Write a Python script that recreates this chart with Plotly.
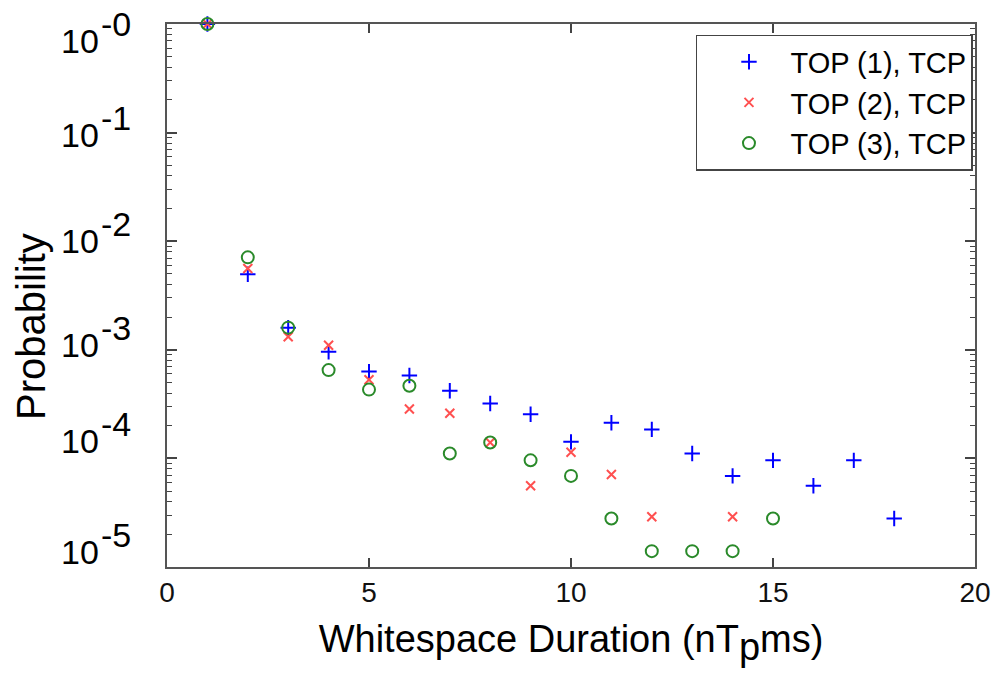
import math
import plotly.graph_objects as go

# ---- data ----
x1 = [1, 2, 3, 4, 5, 6, 7, 8, 9, 10, 11, 12, 13, 14, 15, 16, 17, 18]
y1 = [1.0, 4.96e-3, 1.6e-3, 9.6e-4, 6.3e-4, 5.8e-4, 4.2e-4, 3.2e-4, 2.55e-4,
      1.42e-4, 2.13e-4, 1.85e-4, 1.11e-4, 6.9e-5, 9.6e-5, 5.6e-5, 9.6e-5, 2.8e-5]

x2 = [1, 2, 3, 4, 5, 6, 7, 8, 9, 10, 11, 12, 14]
y2 = [1.0, 5.6e-3, 1.32e-3, 1.1e-3, 5.3e-4, 2.85e-4, 2.6e-4, 1.40e-4, 5.6e-5,
      1.14e-4, 7.1e-5, 2.9e-5, 2.9e-5]

x3 = [1, 2, 3, 4, 5, 6, 7, 8, 9, 10, 11, 12, 13, 14, 15]
y3 = [1.0, 7.1e-3, 1.6e-3, 6.5e-4, 4.3e-4, 4.67e-4, 1.11e-4, 1.40e-4, 9.6e-5,
      6.9e-5, 2.8e-5, 1.4e-5, 1.4e-5, 1.4e-5, 2.8e-5]

names = ["TOP (1), TCP", "TOP (2), TCP", "TOP (3), TCP"]
x_ticks = [0, 5, 10, 15, 20]
y_tickvals = [1e0, 1e-1, 1e-2, 1e-3, 1e-4, 1e-5]
y_tick_base = "10"
y_tick_exps = ["-0", "-1", "-2", "-3", "-4", "-5"]

# label placement tweaks (pixels, positive = up) as seen in the original figure
y_label_shift = [-17, -2, 0, 5, 17, 15]

FONT = "Liberation Sans, Arial, sans-serif"
TICK_FS = 34

fig = go.Figure()
fig.add_trace(go.Scatter(
    x=x1, y=y1, mode="markers", name=names[0], cliponaxis=False,
    marker=dict(symbol="cross-thin", size=11, color="#0000ff",
                line=dict(color="#0000ff", width=2))))
fig.add_trace(go.Scatter(
    x=x2, y=y2, mode="markers", name=names[1], cliponaxis=False,
    marker=dict(symbol="x-thin", size=9, color="#ff5050",
                line=dict(color="#ff5050", width=2))))
fig.add_trace(go.Scatter(
    x=x3, y=y3, mode="markers", name=names[2], cliponaxis=False,
    marker=dict(symbol="circle-open", size=12, color="#2a8a2a",
                line=dict(color="#2a8a2a", width=2))))

axis_common = dict(
    showline=True, linecolor="#555555", linewidth=1.5, mirror="ticks",
    ticks="inside", tickcolor="#444444", tickwidth=1.5,
    showgrid=False, zeroline=False,
)

fig.update_xaxes(
    range=[0, 20], tickvals=x_ticks, ticklen=9,
    tickfont=dict(family=FONT, size=28, color="#111111"),
    title=dict(text="Whitespace Duration (nT<sub><span style='font-size:38px'>p</span></sub>ms)",
               font=dict(family=FONT, size=38, color="black"), standoff=18),
    **axis_common)

fig.update_yaxes(
    type="log", range=[-5, 0], tickvals=y_tickvals, ticklen=10,
    showticklabels=False,
    minor=dict(ticks="inside", ticklen=5, tickcolor="#444444", tickwidth=1.2, dtick="D1"),
    **axis_common)

# y tick labels: base and exponent drawn at the y-axis positions of each decade
annotations = []
for val, exp, dy in zip(y_tickvals, y_tick_exps, y_label_shift):
    yl = math.log10(val)
    annotations.append(dict(
        text=y_tick_base, xref="paper", yref="y", x=0, y=yl,
        xanchor="right", yanchor="middle", xshift=-66, yshift=dy,
        showarrow=False, font=dict(family=FONT, size=TICK_FS, color="black")))
    annotations.append(dict(
        text=exp, xref="paper", yref="y", x=0, y=yl,
        xanchor="left", yanchor="middle", xshift=-68, yshift=dy + 17,
        showarrow=False, font=dict(family=FONT, size=TICK_FS, color="black")))

# y-axis title
annotations.append(dict(
    text="Probability", xref="paper", yref="paper", x=0, y=0.442,
    xanchor="center", yanchor="middle", xshift=-136, textangle=-90,
    showarrow=False, font=dict(family=FONT, size=40, color="black")))

fig.update_layout(
    width=1003, height=673,
    margin=dict(l=167, r=22, t=24, b=106),
    paper_bgcolor="white", plot_bgcolor="white",
    font=dict(family=FONT),
    showlegend=True,
    annotations=annotations,
    legend=dict(
        x=0.9975, y=0.98, xanchor="right", yanchor="top",
        bgcolor="white", bordercolor="#444444", borderwidth=1.5,
        font=dict(family=FONT, size=29, color="black"),
        itemwidth=73, indentation=10,
    ),
)

fig.write_html("out.html")
